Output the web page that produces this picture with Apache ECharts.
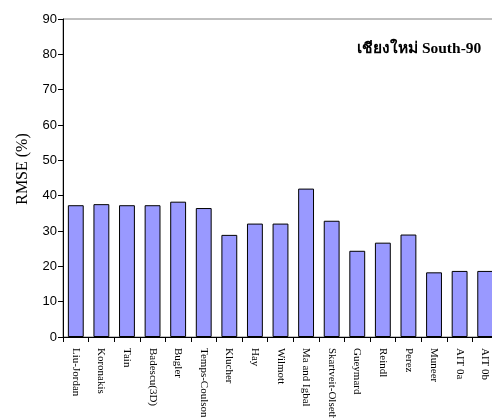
<!DOCTYPE html>
<html>
<head>
<meta charset="utf-8">
<script src="https://cdn.jsdelivr.net/npm/echarts@6/dist/echarts.min.js"></script>
<style>
  html, body { margin: 0; padding: 0; background: #fff; overflow: hidden; }
  #chart { width: 498px; height: 418px; }
</style>
</head>
<body>
<div id="chart"></div>
<script>
// Solar radiation models evaluated at the Chiang Mai south-facing 90° surface
const models = [
  'Liu-Jordan', 'Koronakis', 'Tain', 'Badescu(3D)', 'Bugler', 'Temps-Coulson',
  'Klucher', 'Hay', 'Wilmott', 'Ma and Igbal', 'Skartveit-Olseth', 'Gueymard',
  'Reindl', 'Perez', 'Muneer', 'AIT 0a', 'AIT 0b'
];
// Root mean square error of each model (%)
const rmse = [
  37.3, 37.6, 37.3, 37.3, 38.3, 36.5,
  28.9, 32.1, 32.1, 42.0, 32.9, 24.4,
  26.7, 29.0, 18.3, 18.7, 18.7
];
const yTicks = { min: 0, max: 90, step: 10 };
const titleText = 'เชียงใหม่ South-90';
const yAxisName = 'RMSE (%)';

const chart = echarts.init(document.getElementById('chart'), null, { renderer: 'canvas' });

chart.setOption({
  animation: false,
  backgroundColor: '#ffffff',
  grid: {
    left: 63, top: 19, bottom: 81, right: 0,
    containLabel: false,
    outerBoundsMode: 'none',
    show: true, borderColor: '#808080', borderWidth: 1,
    backgroundColor: 'transparent'
  },
  graphic: [{
    type: 'text',
    left: 357, top: 41,
    style: {
      text: titleText,
      font: 'bold 15.5px "Liberation Serif", "DejaVu Serif", serif',
      fill: '#000'
    }
  }, {
    type: 'text',
    x: 23, y: 169,
    rotation: Math.PI / 2,
    style: {
      text: yAxisName,
      font: '16px "Liberation Serif", "Times New Roman", serif',
      fill: '#000',
      align: 'center',
      verticalAlign: 'middle'
    }
  }],
  xAxis: {
    type: 'category',
    data: models,
    boundaryGap: true,
    axisLine: { lineStyle: { color: '#000', width: 1 } },
    axisTick: { show: true, length: 5, lineStyle: { color: '#000' } },
    axisLabel: {
      rotate: -90,
      interval: 0,
      margin: 11,
      color: '#000',
      fontFamily: '"Liberation Serif", "Times New Roman", serif',
      fontSize: 11
    },
    splitLine: { show: false }
  },
  yAxis: {
    type: 'value',
    min: yTicks.min, max: yTicks.max, interval: yTicks.step,
    axisLine: { show: true, lineStyle: { color: '#000', width: 1 } },
    axisTick: { show: true, length: 5, inside: false, lineStyle: { color: '#000' } },
    axisLabel: {
      color: '#000',
      fontFamily: '"Liberation Sans", Arial, sans-serif',
      fontSize: 13,
      margin: 6
    },
    splitLine: { show: false }
  },
  series: [{
    type: 'bar',
    data: rmse,
    barWidth: '62%',
    itemStyle: {
      color: '#9999FF',
      borderColor: '#000',
      borderWidth: 1
    },
    emphasis: { disabled: true }
  }]
});
</script>
</body>
</html>
